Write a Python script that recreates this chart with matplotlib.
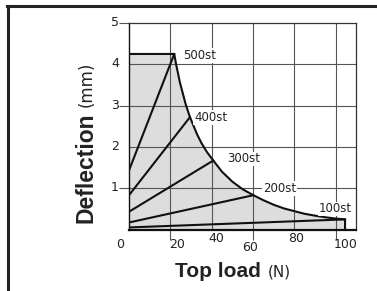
import numpy as np
import matplotlib.pyplot as plt
from matplotlib.lines import Line2D

# envelope of the shaded area (top load vs deflection)
env_x = [21.9, 22.8, 24.7, 27.4, 29.5, 33.0, 35.0, 37.8, 40.8, 45.0, 50.0, 55.0,
         60.2, 65.0, 70.0, 75.0, 80.0, 85.0, 90.0, 95.0, 100.0, 104.6]
env_y = [4.25, 4.00, 3.55, 3.04, 2.72, 2.30, 2.10, 1.87, 1.67, 1.40, 1.16, 0.975,
         0.83, 0.71, 0.60, 0.51, 0.445, 0.38, 0.336, 0.297, 0.265, 0.245]
top_y = 4.25

# stroke lines: start deflection at 0 N, end point on the envelope
strokes = ["500st", "400st", "300st", "200st", "100st"]
start_y = [1.43, 0.83, 0.43, 0.17, 0.05]
end_x = [21.9, 29.5, 40.8, 60.2, 104.6]
end_y = [4.25, 2.72, 1.67, 0.83, 0.245]
label_x = [26.3, 31.5, 47.5, 65.0, 91.7]
label_y = [4.22, 2.71, 1.71, 0.985, 0.50]

xticks = [0, 20, 40, 60, 80, 100]
yticks = [1, 2, 3, 4, 5]
# hand-placed tick label offsets of the original drawing (pixels)
xtick_dx = [-9.3, 6.7, 5.1, -2.9, 1.8, 10.2]
xtick_dy = [-15.2, -15.2, -9.5, -17.8, -8.8, -14.5]

fig = plt.figure(figsize=(3.77, 2.91), dpi=100)
ax = fig.add_axes([129/377, 1-229.5/291, 227/377, 206.5/291])
ax.set_xlim(0, 109.9)
ax.set_ylim(0, 5)

gray = "#555555"

# shaded area
px = [0, 0] + env_x + [env_x[-1]]
py = [0, top_y] + env_y + [0]
ax.fill(px, py, color="#dddddd", lw=0, zorder=1)

# grid
for v in [20, 40, 60, 80, 100]:
    ax.axvline(v, color=gray, lw=0.8, zorder=2)
for v in [1, 2, 3, 4]:
    ax.axhline(v, color=gray, lw=0.8, zorder=2)

# envelope outline
ox = [0] + env_x + [env_x[-1]]
oy = [top_y] + env_y + [0]
ax.plot(ox, oy, color="#111111", lw=1.5, zorder=3, solid_joinstyle="round")

for i in range(len(strokes)):
    ax.plot([0, end_x[i]], [start_y[i], end_y[i]], color="#111111", lw=1.5, zorder=3)
    ax.text(label_x[i], label_y[i], strokes[i], fontsize=8.5, va="center", ha="left",
            family="DejaVu Sans", color="#222222", zorder=4,
            bbox=dict(facecolor="white", edgecolor="none", pad=0.6))

for s in ["top", "right"]:
    ax.spines[s].set_color("#333333")
    ax.spines[s].set_linewidth(0.9)
ax.spines["left"].set_color("#111111")
ax.spines["left"].set_linewidth(1.0)
ax.spines["bottom"].set_color("#111111")
ax.spines["bottom"].set_linewidth(1.6)

ax.set_xticks([20, 60, 100])
ax.set_yticks([1, 3, 5])
ax.tick_params(length=7, width=0.8, color=gray, labelbottom=False, labelleft=False)

for i, v in enumerate(xticks):
    ax.annotate(str(v), xy=(v, 0), xytext=(xtick_dx[i], xtick_dy[i]),
                textcoords="offset pixels", ha="center", va="center",
                fontsize=9, family="DejaVu Sans", color="#222222", annotation_clip=False)
for v in yticks:
    ax.annotate(str(v), xy=(0, v), xytext=(-14, 0.5),
                textcoords="offset pixels", ha="center", va="center",
                fontsize=9, family="DejaVu Sans", color="#222222", annotation_clip=False)

# axis titles
fig.text(175/377, 1-276.7/291, "Top load", fontsize=15, fontweight="bold",
         family="Liberation Sans", color="#222222", ha="left", va="baseline")
fig.text(268/377, 1-276.7/291, "(N)", fontsize=11, family="DejaVu Sans",
         color="#222222", ha="left", va="baseline")
fig.text(92/377, 1-222.7/291, "Deflection", fontsize=16.5, fontweight="bold",
         family="Liberation Sans", color="#222222", rotation=90,
         ha="left", va="baseline", rotation_mode="anchor")
fig.text(92/377, 1-107/291, "(mm)", fontsize=12, family="DejaVu Sans",
         color="#222222", rotation=90, ha="left", va="baseline", rotation_mode="anchor")

# outer frame of the drawing
fig.add_artist(Line2D([7.5/377, 7.5/377], [0, 1-5.5/291], color="#222222", lw=2.2))
fig.add_artist(Line2D([6.5/377, 1], [1-5.5/291, 1-5.5/291], color="#222222", lw=2.2))

fig.savefig("out.png", dpi=100)
